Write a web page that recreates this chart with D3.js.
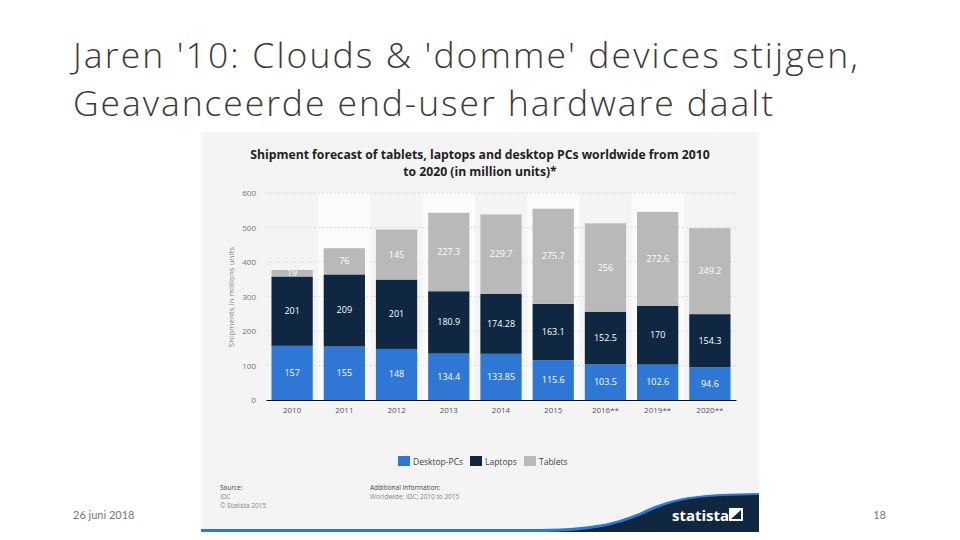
<!DOCTYPE html>
<html><head><meta charset="utf-8">
<script src="https://cdn.jsdelivr.net/npm/d3@7"></script>
<style>body{margin:0;background:#fff}svg{display:block}</style>
</head><body>
<svg id="c" width="960" height="540"></svg>
<script>
const years = ["2010","2011","2012","2013","2014","2015","2016**","2019**","2020**"];
const desktop = [157,155,148,134.4,133.85,115.6,103.5,102.6,94.6];
const laptops = [201,209,201,180.9,174.28,163.1,152.5,170,154.3];
const tablets = [19,76,145,227.3,229.7,275.7,256,272.6,249.2];
const desktopLabels = ["157","155","148","134.4","133.85","115.6","103.5","102.6","94.6"];
const laptopLabels = ["201","209","201","180.9","174.28","163.1","152.5","170","154.3"];
const tabletLabels = ["19","76","145","227.3","229.7","275.7","256","272.6","249.2"];
const yTicks = [0,100,200,300,400,500,600];
const seriesNames = ["Desktop-PCs","Laptops","Tablets"];
const colors = ["#2f77d5","#0f2740","#b9b9b9"];

const svg = d3.select("#c");

// slide title
const titleLines = [
  {text:"Jaren '10: Clouds & 'domme' devices stijgen,", y:68, w:785},
  {text:"Geavanceerde end-user hardware daalt", y:116, w:700}
];
titleLines.forEach(l=>{
  svg.append("text").attr("x",73).attr("y",l.y).attr("fill","#3a3a3a")
    .attr("textLength",l.w).attr("lengthAdjust","spacing")
    .style("font-family","'Open Sans', sans-serif").style("font-weight",300).style("font-size","35.5px")
    .text(l.text);
});

// footer
svg.append("text").attr("x",73).attr("y",519).attr("fill","#777").style("font-family","Lato, sans-serif").style("font-size","11px").text("26 juni 2018");
svg.append("text").attr("x",886).attr("y",519).attr("text-anchor","end").attr("fill","#777").style("font-family","Lato, sans-serif").style("font-size","11px").text("18");

// panel
svg.append("rect").attr("x",201).attr("y",132).attr("width",558).attr("height",400).attr("fill","#f4f4f4");

svg.append("text").attr("x",480).attr("text-anchor","middle").attr("fill","#222")
  .style("font-family","'Open Sans', sans-serif").style("font-weight",700).style("font-size","12.2px")
  .call(s=>{
    s.append("tspan").attr("x",480).attr("y",159).text("Shipment forecast of tablets, laptops and desktop PCs worldwide from 2010");
    s.append("tspan").attr("x",480).attr("y",176).text("to 2020 (in million units)*");
  });

const x = d3.scaleBand().domain(years).range([266,736]).paddingInner(0.21).paddingOuter(0.105);
const y = d3.scaleLinear().domain([0,600]).range([400,193]);

// alternating column stripes
svg.append("g").selectAll("rect").data(years.filter((d,i)=>i%2===1)).join("rect")
  .attr("x",d=>x(d)-x.step()*x.paddingInner()/2).attr("width",x.step())
  .attr("y",y(600)).attr("height",y(0)-y(600)).attr("fill","#fbfbfb");

// grid
svg.append("g").selectAll("line").data(yTicks.filter(d=>d>0)).join("line")
  .attr("x1",266).attr("x2",736).attr("y1",d=>y(d)).attr("y2",d=>y(d))
  .attr("stroke","#d8d8d8").attr("stroke-width",0.8).attr("stroke-dasharray","2,2");

// y axis
const ya = svg.append("g").attr("transform","translate(256,0)")
  .call(d3.axisLeft(y).tickValues(yTicks).tickSize(0).tickPadding(0));
ya.select(".domain").remove();
ya.selectAll("text").attr("fill","#777").style("font-family","'Open Sans', sans-serif").style("font-size","8px");

svg.append("text").attr("transform","translate(234,297) rotate(-90)").attr("text-anchor","middle")
  .attr("fill","#888").style("font-family","'Open Sans', sans-serif").style("font-size","8px").text("Shipments in millions units");

// stacked bars
const rows = years.map((yr,i)=>({year:yr,"Desktop-PCs":desktop[i],"Laptops":laptops[i],"Tablets":tablets[i]}));
const stack = d3.stack().keys(seriesNames)(rows);
const labels = [desktopLabels,laptopLabels,tabletLabels];
stack.forEach((layer,k)=>{
  const g = svg.append("g");
  g.selectAll("rect").data(layer).join("rect")
    .attr("x",d=>x(d.data.year)).attr("width",x.bandwidth())
    .attr("y",d=>y(d[1])).attr("height",d=>y(d[0])-y(d[1])).attr("fill",colors[k]);
  g.selectAll("text").data(layer).join("text")
    .attr("x",d=>x(d.data.year)+x.bandwidth()/2)
    .attr("y",d=>(y(d[0])+y(d[1]))/2+3)
    .attr("text-anchor","middle").attr("fill","#fff")
    .style("font-family","'Open Sans', sans-serif").style("font-size","9px")
    .text((d,i)=>labels[k][i]);
});

// x axis
const xa = svg.append("g").attr("transform","translate(0,400)")
  .call(d3.axisBottom(x).tickSize(0).tickPadding(7));
xa.select(".domain").attr("stroke","#111").attr("stroke-width",1.2);
xa.selectAll("text").attr("fill","#555").style("font-family","'Open Sans', sans-serif").style("font-size","8px");

// legend
const leg = svg.append("g");
const legX = [398,470,524];
seriesNames.forEach((n,i)=>{
  leg.append("rect").attr("x",legX[i]).attr("y",456).attr("width",12).attr("height",10).attr("fill",colors[i]);
  leg.append("text").attr("x",legX[i]+15).attr("y",464.5).attr("fill","#444")
    .style("font-family","'Open Sans', sans-serif").style("font-size","8.5px").text(n);
});

// source
const sf = s=>s.style("font-family","'Open Sans', sans-serif").style("font-size","6.5px");
svg.append("text").attr("x",220).attr("y",490).attr("fill","#444").call(sf).text("Source:");
svg.append("text").attr("x",220).attr("y",499).attr("fill","#888").call(sf).text("IDC");
svg.append("text").attr("x",220).attr("y",508).attr("fill","#888").call(sf).text("© Statista 2015");
svg.append("text").attr("x",370).attr("y",490).attr("fill","#444").call(sf).text("Additional Information:");
svg.append("text").attr("x",370).attr("y",499).attr("fill","#888").call(sf).text("Worldwide; IDC; 2010 to 2015");

// statista footer wave
svg.append("path").attr("d","M201,529 L540,529 C600,528 620,522 650,508 C680,496 700,494 759,493 L759,532 L201,532 Z").attr("fill","#2f77d5");
svg.append("path").attr("d","M545,532 C600,531 625,523 655,509 C685,497 705,496 759,495 L759,532 Z").attr("fill","#0f2740");
svg.append("text").attr("x",672).attr("y",521).attr("fill","#fff")
  .style("font-family","'Open Sans', sans-serif").style("font-weight",700).style("font-size","15px").text("statista");
svg.append("path").attr("d","M729,508 L743,508 L743,521 L729,521 Z").attr("fill","#fff");
svg.append("path").attr("d","M731,519 L741,510 L741,519 Z").attr("fill","#0f2740");
</script>
</body></html>
